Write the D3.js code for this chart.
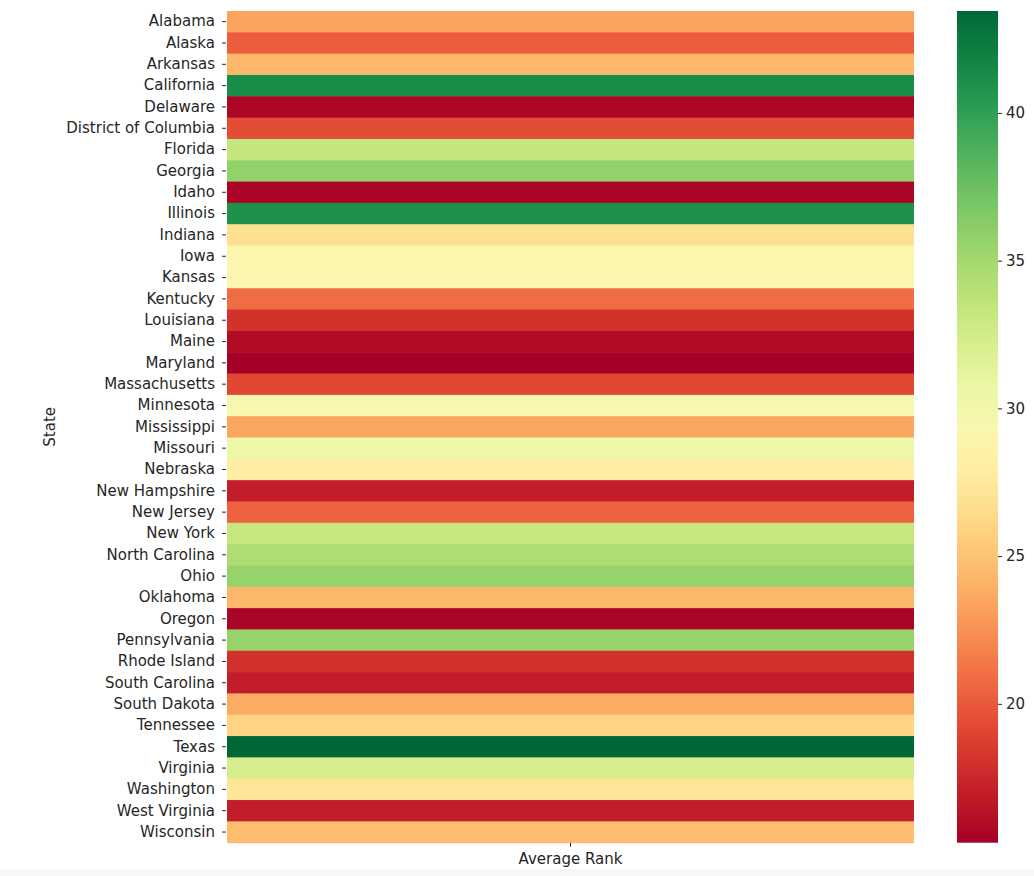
<!DOCTYPE html>
<html lang="en">
<head>
<meta charset="utf-8">
<title>Average Rank by State</title>
<script src="https://d3js.org/d3.v7.min.js"></script>
<style>
  body { margin: 0; background: #fff; }
  text { font-family: "DejaVu Sans", sans-serif; fill: #262626; }
  .axis path { display: none; }
  .axis line { stroke: #262626; }
</style>
</head>
<body>
<div id="chart"></div>
<script>
// states, in the order of the rows
var states = ["Alabama","Alaska","Arkansas","California","Delaware","District of Columbia",
  "Florida","Georgia","Idaho","Illinois","Indiana","Iowa","Kansas","Kentucky","Louisiana",
  "Maine","Maryland","Massachusetts","Minnesota","Mississippi","Missouri","Nebraska",
  "New Hampshire","New Jersey","New York","North Carolina","Ohio","Oklahoma","Oregon",
  "Pennsylvania","Rhode Island","South Carolina","South Dakota","Tennessee","Texas",
  "Virginia","Washington","West Virginia","Wisconsin"]

// average rank
var avgRank = [23.4, 20.2, 24.3, 41.2, 15.7, 19.4,
  33.3, 35.8, 15.6, 40.9, 26.8, 29.2, 29.1, 20.9, 18.1,
  16.0, 15.3, 19.2, 29.6, 23.5, 30.4, 28.0,
  17.0, 20.4, 33.2, 34.4, 35.6, 24.3, 15.6,
  35.6, 18.0, 17.0, 23.7, 26.0, 43.45,
  32.3, 27.2, 17.0, 24.6]

var colTicks = [20, 25, 30, 35, 40]

var w = 1034, h = 876
var svg = d3.select("#chart").append("svg")
  .attr("width", w).attr("height", h)

// notebook frame strip at the bottom
svg.append("rect").attr("x", 0).attr("y", 869).attr("width", w).attr("height", h - 869)
  .attr("fill", "#f7f7f7")

// plot box (not called "top": that name is taken by window.top)
var pLeft = 227, pRight = 914, pTop = 11, pBottom = 842.7

var yScale = d3.scaleBand().domain(states).range([pTop, pBottom])
var xScale = d3.scaleBand().domain(["Average Rank"]).range([pLeft, pRight])

var vmin = d3.min(avgRank), vmax = d3.max(avgRank)
var cScale = d3.scaleSequential(d3.interpolateRdYlGn).domain([vmin, vmax])

svg.selectAll("rect.cell")
  .data(states)
  .enter()
  .append("rect")
  .attr("class", "cell")
  .attr("x", xScale("Average Rank"))
  .attr("y", function(d) { return yScale(d) })
  .attr("width", xScale.bandwidth())
  .attr("height", yScale.bandwidth() + 0.5)
  .attr("fill", function(d, i) { return cScale(avgRank[i]) })

var yAxis = d3.axisLeft(yScale).tickSize(4).tickPadding(7)
svg.append("g").attr("class", "axis")
  .attr("transform", "translate(" + (pLeft - 1) + ",0)")
  .call(yAxis)
  .selectAll("text").style("font-size", "15px")

var xAxis = d3.axisBottom(xScale).tickSize(4).tickPadding(7)
svg.append("g").attr("class", "axis")
  .attr("transform", "translate(0," + pBottom + ")")
  .call(xAxis)
  .selectAll("text").style("font-size", "15px")

svg.append("text")
  .attr("transform", "translate(55," + ((pTop + pBottom) / 2) + ") rotate(-90)")
  .attr("text-anchor", "middle")
  .style("font-size", "15px")
  .text("State")

// colour bar
var cbX = 957, cbW = 41
var cbScale = d3.scaleLinear().domain([vmin, vmax]).range([pBottom, pTop])
var defs = svg.append("defs")
var grad = defs.append("linearGradient").attr("id", "cbgrad")
  .attr("x1", 0).attr("y1", 1).attr("x2", 0).attr("y2", 0)
d3.range(0, 1.0001, 0.05).forEach(function(t) {
  grad.append("stop").attr("offset", t).attr("stop-color", d3.interpolateRdYlGn(t))
})
svg.append("rect")
  .attr("x", cbX).attr("y", pTop)
  .attr("width", cbW).attr("height", pBottom - pTop)
  .attr("fill", "url(#cbgrad)")

var cbAxis = d3.axisRight(cbScale).tickValues(colTicks).tickSize(4).tickPadding(4)
svg.append("g").attr("class", "axis")
  .attr("transform", "translate(" + (cbX + cbW) + ",0)")
  .call(cbAxis)
  .selectAll("text").style("font-size", "15px")
</script>
</body>
</html>
